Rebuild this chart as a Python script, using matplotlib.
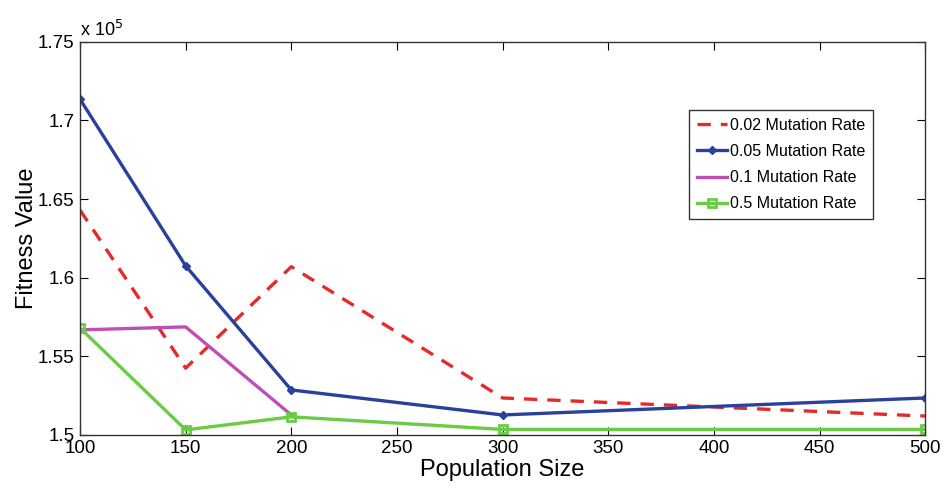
import numpy as np
import matplotlib.pyplot as plt

plt.rcParams['font.family'] = ['Liberation Sans', 'DejaVu Sans']

# Population sizes and fitness values (x 1e5)
pop = [100, 150, 200, 300, 500]
pop_01 = [100, 150, 200]
rate_002 = [1.643, 1.5425, 1.607, 1.5235, 1.512]
rate_005 = [1.7135, 1.6075, 1.5286, 1.5127, 1.5235]
rate_01 = [1.5668, 1.5687, 1.5127]
rate_05 = [1.568, 1.5032, 1.5115, 1.5035, 1.5035]

fig = plt.figure(figsize=(9.46, 4.92), dpi=100)
ax = fig.add_axes([0.0846, 0.116, 0.8934, 0.799])

ax.plot(pop, rate_002, '--', color='#e62a2a', lw=2.4, dashes=(4, 3), label='0.02 Mutation Rate')
ax.plot(pop, rate_005, '-', color='#2b409b', lw=2.4, marker='D', ms=4, label='0.05 Mutation Rate')
ax.plot(pop_01, rate_01, '-', color='#bf4fb8', lw=2.4, label='0.1 Mutation Rate')
ax.plot(pop, rate_05, '-', color='#6acb45', lw=2.4, marker='s', ms=6, mfc='none', mew=2,
        label='0.5 Mutation Rate')

ax.set_xlim(100, 500)
ax.set_ylim(1.5, 1.75)
ax.set_xticks(np.arange(100, 501, 50))
ax.set_yticks([1.5, 1.55, 1.6, 1.65, 1.7, 1.75])
ax.set_yticklabels(['1.5', '1.55', '1.6', '1.65', '1.7', '1.75'])
ax.tick_params(direction='in', top=True, right=True, length=6, labelsize=13.5, pad=4)
for s in ax.spines.values():
    s.set_linewidth(1)
    s.set_color('#333333')

ax.set_xlabel('Population Size', fontsize=17, labelpad=1)
ax.set_ylabel('Fitness Value', fontsize=17, labelpad=0)
ax.text(0.0, 1.005, r'x 10$^5$', transform=ax.transAxes, fontsize=13, ha='left', va='bottom')

leg = ax.legend(loc='upper left', bbox_to_anchor=(0.72, 0.827), fontsize=11.5, handlelength=1.9,
                handletextpad=0.2, borderpad=0.5, labelspacing=0.7, fancybox=False,
                framealpha=1, borderaxespad=0)
leg.get_frame().set_edgecolor('#333333')
leg.get_frame().set_linewidth(1)

fig.savefig('out.png', dpi=100)
